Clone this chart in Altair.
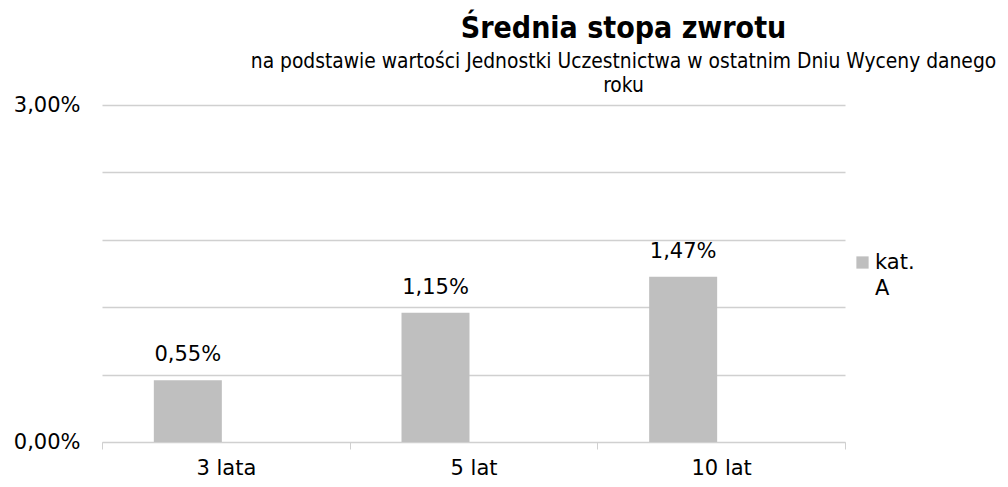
import altair as alt
import pandas as pd

categories = ["3 lata", "5 lat", "10 lat"]
values = [0.0055, 0.0115, 0.0147]
series = ["kat. A", "kat. A", "kat. A"]
y_ticks = [0.0, 0.006, 0.012, 0.018, 0.024, 0.030]

df = pd.DataFrame({"okres": categories, "stopa": values, "seria": series})

FONT = "DejaVu Sans"
TFONT = "DejaVu Sans Condensed"
GRID = "#d0d0d0"
BAR = "#bfbfbf"

base = alt.Chart(df).transform_calculate(
    label="replace(format(datum.stopa, '.2%'), '.', ',')"
)

x_enc = alt.X(
    "okres:N", sort=categories, title=None,
    scale=alt.Scale(paddingInner=0, paddingOuter=0),
    axis=alt.Axis(labelAngle=0, labelFontSize=21, labelColor="#000", labelFont=FONT,
                  labelPadding=8, domainColor=GRID, tickColor=GRID, tickSize=7,
                  tickBand="extent", grid=False),
)
y_enc = alt.Y(
    "stopa:Q", title=None,
    scale=alt.Scale(domain=[0, 0.03], nice=False),
    axis=alt.Axis(values=y_ticks,
                  labelExpr="(datum.value < 0.0001 || datum.value > 0.0299) ? replace(format(datum.value, '.2%'), '.', ',') : ''",
                  labelFontSize=21, labelColor="#000", labelFont=FONT, labelPadding=22,
                  ticks=False, domain=False, gridColor=GRID, gridWidth=1.3),
)

bars = base.mark_bar(color=BAR, width=68, xOffset=-38).encode(
    x=x_enc, y=y_enc,
    color=alt.Color("seria:N", scale=alt.Scale(range=[BAR]), title=None,
                    legend=alt.Legend(orient="none", legendX=750, legendY=147,
                                      symbolType="square", symbolSize=150,
                                      symbolStrokeWidth=0,
                                      labelFontSize=21, labelFont=FONT, labelColor="#000",
                                      labelExpr="split(datum.label, ' ')",
                                      labelOffset=2)),
)

labels = base.mark_text(fontSize=21, font=FONT, color="#000", dy=-25, xOffset=-38,
                        baseline="middle").encode(
    x=x_enc, y=y_enc, text="label:N"
)

chart = alt.layer(bars, labels).properties(
    width=743, height=337,
    padding={"left": 94, "top": 97, "right": 155, "bottom": 37},
    autosize=alt.AutoSizeParams(type="none"),
    title=alt.TitleParams(
        text="Średnia stopa zwrotu",
        subtitle=["na podstawie wartości Jednostki Uczestnictwa w ostatnim Dniu Wyceny danego", "roku"],
        anchor="middle", frame="group", dx=150, offset=-2,
        font=TFONT, fontSize=30, fontWeight="bold", color="#000",
        subtitleFont=TFONT, subtitleFontSize=20.8, subtitleColor="#000",
        subtitleLineHeight=24, subtitlePadding=8,
    ),
).configure(
    style={"guide-label": {"lineHeight": 26}}
).configure_view(stroke=None)

chart.save("out.html", embed_options={"renderer": "svg", "actions": False})
